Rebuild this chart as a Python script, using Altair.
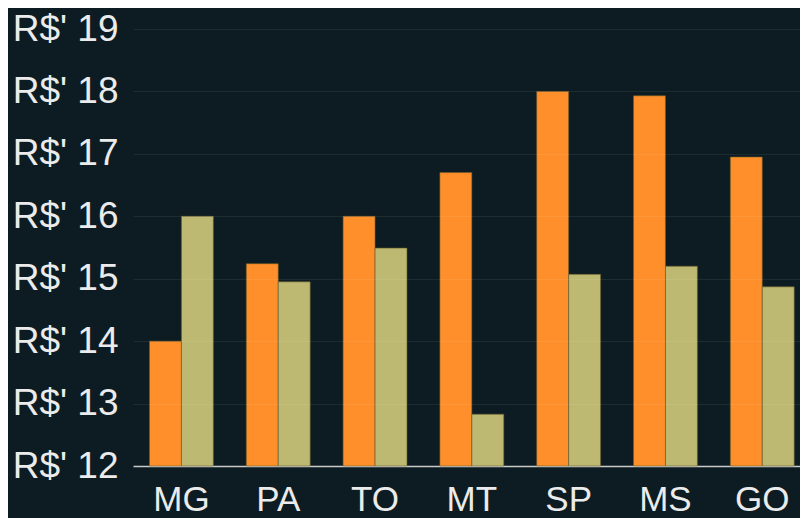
import altair as alt
import pandas as pd

states = ["MG", "PA", "TO", "MT", "SP", "MS", "GO"]
serie_1 = [14.0, 15.24, 16.0, 16.7, 18.0, 17.93, 16.95]
serie_2 = [16.0, 14.95, 15.49, 12.83, 15.07, 15.2, 14.87]
series = ["Série 1", "Série 2"]
y_ticks = [12, 13, 14, 15, 16, 17, 18, 19]

rows = []
for s, a, b in zip(states, serie_1, serie_2):
    rows.append({"estado": s, "serie": series[0], "valor": a})
    rows.append({"estado": s, "serie": series[1], "valor": b})
df = pd.DataFrame(rows)

FONT = "Liberation Sans"
BG = "#0c1c22"

chart = (
    alt.Chart(df)
    .mark_bar(stroke="#6b5a2a", strokeWidth=0.6)
    .encode(
        x=alt.X(
            "estado:N",
            sort=states,
            title=None,
            scale=alt.Scale(paddingInner=0.34, paddingOuter=0.115, align=0.74),
            axis=alt.Axis(
                labelAngle=0,
                labelFontSize=35,
                labelFont=FONT,
                labelColor="#ebebeb",
                labelPadding=16,
                ticks=False,
                tickSize=0,
                domain=True,
                domainColor="#c8c8c8",
                domainWidth=1.5,
                grid=False,
            ),
        ),
        xOffset=alt.XOffset("serie:N", sort=series),
        y=alt.Y(
            "valor:Q",
            title=None,
            scale=alt.Scale(domain=[12, 19], zero=False, nice=False),
            axis=alt.Axis(
                values=y_ticks,
                labelExpr="\"R$' \" + datum.value",
                labelFontSize=37,
                labelFont=FONT,
                labelColor="#ebebeb",
                labelPadding=15,
                ticks=False,
                tickSize=0,
                domain=False,
                grid=True,
                gridColor="#ffffff",
                gridOpacity=0.07,
                gridWidth=1,
                zindex=1,
            ),
        ),
        y2=alt.datum(12),
        color=alt.Color(
            "serie:N",
            sort=series,
            scale=alt.Scale(domain=series, range=["#ff8f2a", "#bdb872"]),
            legend=None,
        ),
    )
    .properties(
        width=667,
        height=437,
        background=BG,
        autosize=alt.AutoSizeParams(type="none"),
        padding={"left": 125, "top": 21, "right": 0, "bottom": 52},
    )
    .configure_view(stroke=None)
)

chart.save("out.html", embed_options={"renderer": "svg", "actions": False})
